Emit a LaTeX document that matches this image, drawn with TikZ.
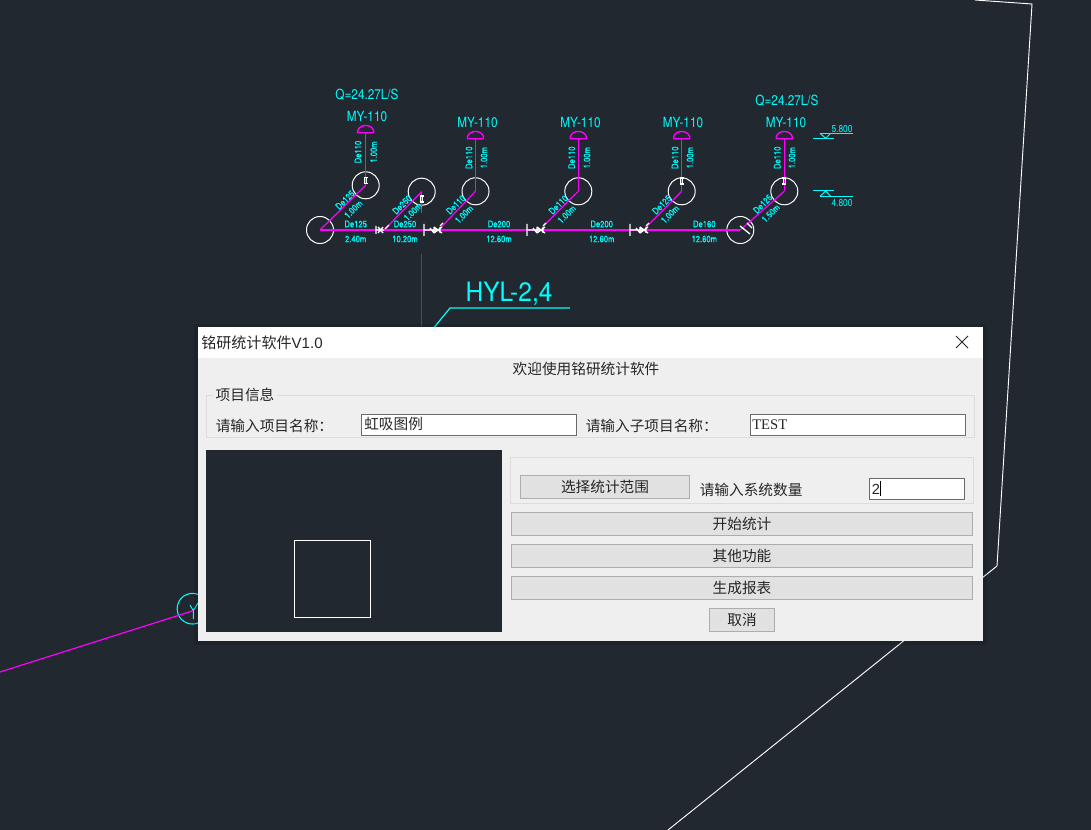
\documentclass[tikz,border=0pt]{standalone}
\usepackage{fontspec}
\setmainfont{Liberation Sans}
\newfontfamily\cadf[FakeStretch=0.84]{TeX Gyre Heros}
\newfontfamily\cadw[FakeStretch=0.92]{TeX Gyre Heros}
\newfontfamily\cadb[FakeStretch=0.84,FakeBold=0.6]{TeX Gyre Heros}
\newfontfamily\cjk{Noto Sans CJK SC}
\newfontfamily\serf{Liberation Serif}
\definecolor{bg}{HTML}{212830}
\definecolor{cad}{HTML}{00FFFF}
\definecolor{pipe}{HTML}{FF00FF}
\definecolor{dlg}{HTML}{EFEFEF}
\definecolor{grp}{HTML}{DCDCDC}
\definecolor{btn}{HTML}{E1E1E1}
\definecolor{btnb}{HTML}{ADADAD}
\definecolor{entb}{HTML}{6A6A6A}
\tikzset{
  x=.75pt,y=-.75pt,
  cadtxt/.style={text=cad,inner sep=0,font=\cadf\fontsize{#1}{#1}\selectfont},
  cadtxt/.default=10.5,
  tiny/.style={text=cad,inner sep=0,font=\cadb\fontsize{6.8}{6.8}\selectfont},
  hole/.style={circle,draw=white,line width=.75pt,minimum size=20.25pt,inner sep=0},
  pipeline/.style={draw=pipe,line width=1.2pt},
  thinpipe/.style={draw=pipe,line width=.9pt},
  fit/.style={draw=white,line width=1pt},
  cadline/.style={draw=cad,line width=.75pt},
  ui/.style={inner sep=0,text=black!85,font=\cjk\fontsize{11}{11}\selectfont},
  groupbox/.style={draw=grp,line width=.75pt},
  entry/.style={draw=entb,fill=white,line width=.75pt},
  button/.style={draw=btnb,fill=btn,line width=.75pt},
  dome/.pic={\draw[thinpipe,line width=1pt] (-8,0) -- (-8,-2) .. controls (-6,-9) and (6,-9) .. (8,-2) -- (8,0) -- cycle;},
  valve/.pic={\draw[fit,line width=1.1pt] (-2,-3) -- (2,-3) (-2,3) -- (2,3) (-1,-3) -- (-1,3) (1,-3) -- (1,3);},
  tee/.pic={\draw[fit] (0,-6) -- (0,6) (0,0) -- (16,0) (10,-3) -- (18,3) (10,3) -- (18,-3) (6,-2) -- (10,3) (10,-3) -- (10,3) (16,-3) -- (16,3);},
}
\begin{document}
\begin{tikzpicture}
\useasboundingbox (0,0) rectangle (1091,830);
\fill[bg] (0,0) rectangle (1091,830);
% site outline
\coordinate (o1) at (975,0);\coordinate (o2) at (1032,4);\coordinate (o3) at (997,566);\coordinate (o4) at (668,830);
\draw[white,line width=.7pt] (o1) -- (o2) -- (o3) -- (o4);
% holes
\node[hole] (c1) at (320,230) {};
\node[hole] (c2) at (365.7,185.3) {};
\node[hole] (c3) at (421.7,191.7) {};
\node[hole] (c4) at (475.5,191.3) {};
\node[hole] (c5) at (578.3,191.3) {};
\node[hole] (c6) at (681.7,191.3) {};
\node[hole] (c7) at (740.3,230) {};
\node[hole] (c8) at (784.3,191.3) {};
% roof drains
\coordinate (d1) at (365.7,132.7);
\coordinate (d2) at (475.5,138.7);
\coordinate (d3) at (578.3,138.7);
\coordinate (d4) at (681.7,138.7);
\coordinate (d5) at (784.3,138.7);
\foreach \n in {1,...,5} \pic at (d\n) {dome};
% pipes
\coordinate (b2) at (384,230);\coordinate (b3) at (441.7,226.7);\coordinate (b4) at (544,225.5);\coordinate (b5) at (646.7,226.7);
\coordinate (s3) at (421.7,213);
\draw[pipeline] (c1.center) -- (c7.center);
\draw[thinpipe] (c1.center) -- (c2.center);
\draw[thinpipe] (b2) -- (c3.center);
\draw[thinpipe] (b3) -- (c4.center);
\draw[thinpipe] (b4) -- (c5.center);
\draw[thinpipe] (b5) -- (c6.center);
\draw[thinpipe] (c7.center) -- (c8.center);
\draw[thinpipe] (c3.center) -- (s3);
\draw[thinpipe] (c2.center) -- (d1);
\draw[thinpipe] (c4.center) -- (d2);
\draw[thinpipe] (c5.center) -- (d3);
\draw[thinpipe] (c6.center) -- (d4);
\draw[thinpipe] (c8.center) -- (d5);
% fittings on the risers
\pic at (365.7,180.5) {valve};
\pic at (421.7,199) {valve};
\pic at (681.7,181) {valve};
\pic at (784.3,181) {valve};
% fittings on the main
\draw[fit] (376,226) -- (376,234) (376,230) -- (384,230) (378,227) -- (383,233) (378,233) -- (383,227) (385,229) -- (389,225);
\pic at (424,230) {tee};
\pic at (527,230) {tee};
\pic at (630,230) {tee};
\draw[fit] (740,226) -- (750,234) (747,223) -- (752,228);
\draw[fit] (543,226) -- (546,223) (646,226) -- (649,223) (440,226) -- (443,223);
% labels of the drains
\node[cadtxt=10.5] (t1) at (367,117) {MY-110};
\node[cadtxt=10.5] (t2) at (477.5,123) {MY-110};
\node[cadtxt=10.5] (t3) at (580.5,123) {MY-110};
\node[cadtxt=10.5] (t4) at (683,123) {MY-110};
\node[cadtxt=10.5] (t5) at (786,123) {MY-110};
\node[cadtxt=10.5] (q1) at (367,95) {Q=24.27L/S};
\node[cadtxt=10.5] (q2) at (787,101) {Q=24.27L/S};
% riser labels
\foreach \i/\y/\ddx/\mmx in {1/152/358/373.7,2/157.7/469/484,3/157.7/571.7/587,4/157.7/675/690,5/157.7/777.3/792}{
  \node[tiny,rotate=90] (vd\i) at (\ddx,\y) {De110};
  \node[tiny,rotate=90] (vm\i) at (\mmx,\y) {1.00m};
}
% branch labels
\node[tiny,rotate=45] (gd1) at (345,200) {De125};
\node[tiny,rotate=45] (gm1) at (353.3,209.3) {1.00m};
\node[tiny,rotate=45] (gd2) at (402,204.7) {De250};
\node[tiny,rotate=45] (gm2) at (412.7,211.7) {1.00m};
\node[tiny,rotate=45] (gd3) at (455.7,204.7) {De110};
\node[tiny,rotate=45] (gm3) at (464,214.3) {1.00m};
\node[tiny,rotate=45] (gd4) at (558.3,204.7) {De110};
\node[tiny,rotate=45] (gm4) at (566.7,214.3) {1.00m};
\node[tiny,rotate=45] (gd5) at (661.7,204.7) {De125};
\node[tiny,rotate=45] (gm5) at (670,214.3) {1.00m};
\node[tiny,rotate=45] (gd6) at (762.7,204) {De125};
\node[tiny,rotate=45] (gm6) at (770.7,213.3) {1.50m};
% main labels
\node[tiny] (hd1) at (355.7,224) {De125};
\node[tiny] (hm1) at (355.7,239) {2.40m};
\node[tiny] (hd2) at (405,224) {De250};
\node[tiny] (hm2) at (405,239) {10.20m};
\node[tiny] (hd3) at (499,224) {De200};
\node[tiny] (hm3) at (499,239) {12.60m};
\node[tiny] (hd4) at (601.7,224) {De200};
\node[tiny] (hm4) at (601.7,239) {12.60m};
\node[tiny] (hd5) at (704.3,224) {De160};
\node[tiny] (hm5) at (704.3,239) {12.60m};
% levels
\draw[cadline] (813,138.3) -- (834,138.3);
\draw[cadline] (820,133.3) -- (852.7,133.3);
\draw[cadline] (820,133.3) -- (825.7,138.3) -- (830.7,133.3);
\node[cadtxt=7.5] (e1) at (842,129.5) {5.800};
\draw[cadline] (813,191) -- (834,191);
\draw[cadline] (820,196.3) -- (852.7,196.3);
\draw[cadline] (820,196.3) -- (825.7,191) -- (830.7,196.3);
\node[cadtxt=7.5] (e2) at (842,203) {4.800};
% leader
\coordinate (l1) at (421.7,254);\coordinate (l2) at (421.7,330);
\draw[draw=pipe!75!black,line width=.7pt] (l1) -- (l2);
\coordinate (u1) at (570,308);\coordinate (u2) at (450,308);\coordinate (u3) at (432,330);
\draw[cadline,line width=.9pt] (u1) -- (u2) -- (u3);
\node[text=cad,inner sep=0,font=\cadw\fontsize{20}{20}\selectfont] (hyl) at (509,294) {HYL-2,4};
% lower left
\node[circle,draw=cad,line width=.8pt,minimum size=23pt,inner sep=0] (yc) at (192.5,608.7) {};
\coordinate (y0) at (193.3,610.7);\coordinate (y1) at (190,605);\coordinate (y2) at (198,603);\coordinate (y3) at (193.3,619);\coordinate (m0) at (0,672);
\draw[cadline] (y1) -- (y0) -- (y3) (y0) -- (y2);
\draw[pipeline,line width=.9pt] (m0) -- (y0);
% dialog
\fill[black,opacity=.12] (194,324) rectangle (987,645);
\node[draw=none,fill=dlg,inner sep=0,minimum width=588.75pt,minimum height=235.5pt,anchor=north west] (dialog) at (198,327) {};
\fill[white] (198,327) rectangle (983,358);
\node[anchor=west,inner sep=0,text=black!85,font=\fontsize{11.3}{11.3}\selectfont] (title) at (201,343) {{\cjk 铭研统计软件}V1.0};
\coordinate (xa) at (956,336);\coordinate (xb) at (968,348);\coordinate (xc) at (956,348);\coordinate (xd) at (968,336);
\draw[black!85,line width=.75pt] (xa) -- (xb) (xc) -- (xd);
\node[ui] (welcome) at (586,369) {欢迎使用铭研统计软件};
\draw[groupbox] (206.3,395) rectangle (974.7,437.5);
\node[ui,anchor=west,fill=dlg,inner xsep=2pt,outer sep=0] (gl) at (213,395) {项目信息};
\node[ui,anchor=west] (lab1) at (215.5,426) {请输入项目名称：};
\draw[entry] (361.3,414.3) rectangle (576.7,435.7);
\node[ui,anchor=west] (val1) at (364,423.5) {虹吸图例};
\node[ui,anchor=west] (lab2) at (585.5,426) {请输入子项目名称：};
\draw[entry] (750.3,414.3) rectangle (965.7,435.7);
\node[ui,anchor=west,font=\serf\fontsize{11}{11}\selectfont] (val2) at (752,424.5) {TEST};
% preview
\fill[bg] (206,450) rectangle (502,632);
\draw[white,line width=.75pt] (294.5,540.5) rectangle (370.5,617.5);
% controls
\draw[groupbox] (510.3,457.7) rectangle (973.7,503.7);
\draw[button] (520.5,475.5) rectangle (689.5,498.5);
\node[ui] (bs) at (605,486.5) {选择统计范围};
\node[ui,anchor=west] (lab3) at (699.5,489.5) {请输入系统数量};
\draw[entry] (869.5,478.5) rectangle (964.5,499.5);
\node[ui,anchor=west,font=\fontsize{11}{11}\selectfont] (val3) at (871.5,489) {2};
\draw[black,line width=.6pt] (880,481) -- (880,496);
\draw[button] (511.5,512.5) rectangle (972.5,535.5);
\node[ui] (b1) at (742,523.5) {开始统计};
\draw[button] (511.5,544.5) rectangle (972.5,567.5);
\node[ui] (b2n) at (742,555.5) {其他功能};
\draw[button] (511.5,576.5) rectangle (972.5,599.5);
\node[ui] (b3n) at (742,587.5) {生成报表};
\draw[button] (709.5,608.5) rectangle (774.5,631.5);
\node[ui] (b4n) at (742,619.5) {取消};
\end{tikzpicture}
\end{document}
